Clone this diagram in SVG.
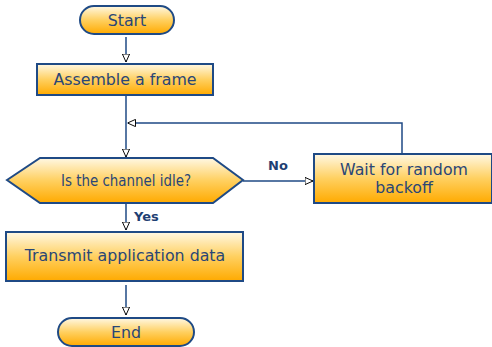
<svg xmlns="http://www.w3.org/2000/svg" width="492" height="347" viewBox="0 0 492 347">
  <style>
    .node { stroke: #1f4a85; stroke-width: 2; fill: url(#amber); }
    .label { font-family: "DejaVu Sans", sans-serif; font-size: 15.8px; fill: #2a4676; text-anchor: middle; }
    .edge { stroke: #1f4a85; stroke-width: 1.5; fill: none; marker-end: url(#tip); }
    .edge-label { font-family: "DejaVu Sans", sans-serif; font-size: 13px; font-weight: bold; fill: #1f3f73; }
  </style>
  <defs>
    <linearGradient id="amber" x1="0" y1="0" x2="0" y2="1">
      <stop offset="0" stop-color="#fff8e4"/>
      <stop offset="0.5" stop-color="#ffd060"/>
      <stop offset="1" stop-color="#ffaa00"/>
    </linearGradient>
    <marker id="tip" viewBox="0 0 10 10" refX="10" refY="5" markerWidth="8" markerHeight="8" markerUnits="userSpaceOnUse" orient="auto">
      <path d="M0,0.5 L10,5 L0,9.5 Z" fill="#ffffff" stroke="#000000" stroke-width="1.2"/>
    </marker>
  </defs>

  <g id="connectors">
    <line class="edge" x1="126" y1="37" x2="126" y2="62"/>
    <line class="edge" x1="126" y1="96" x2="126" y2="157"/>
    <polyline class="edge" points="402,153 402,123 127.5,123"/>
    <line class="edge" x1="243" y1="181" x2="313" y2="181"/>
    <text class="edge-label" x="268" y="170">No</text>
    <line class="edge" x1="126" y1="204" x2="126" y2="230"/>
    <text class="edge-label" x="134" y="221">Yes</text>
    <line class="edge" x1="126" y1="285" x2="126" y2="315"/>
  </g>

  <g id="start">
    <rect class="node" x="80" y="6" width="94" height="28" rx="14"/>
    <text class="label" x="127" y="26">Start</text>
  </g>

  <g id="assemble">
    <rect class="node" x="37" y="64" width="176" height="31"/>
    <text class="label" x="125" y="84.5">Assemble a frame</text>
  </g>

  <g id="idle-check">
    <polygon class="node" points="7,180 40,158 213,158 243,180 213,203 40,203"/>
    <text class="label" x="126" y="186" textLength="130" lengthAdjust="spacingAndGlyphs">Is the channel idle?</text>
  </g>

  <g id="backoff">
    <rect class="node" x="314" y="154" width="178" height="49"/>
    <text class="label" x="404" y="175">Wait for random</text>
    <text class="label" x="404" y="192.5">backoff</text>
  </g>

  <g id="transmit">
    <rect class="node" x="6" y="232" width="237" height="49"/>
    <text class="label" x="125" y="261">Transmit application data</text>
  </g>

  <g id="end">
    <rect class="node" x="58" y="318" width="136" height="28" rx="14"/>
    <text class="label" x="126" y="338">End</text>
  </g>
</svg>
